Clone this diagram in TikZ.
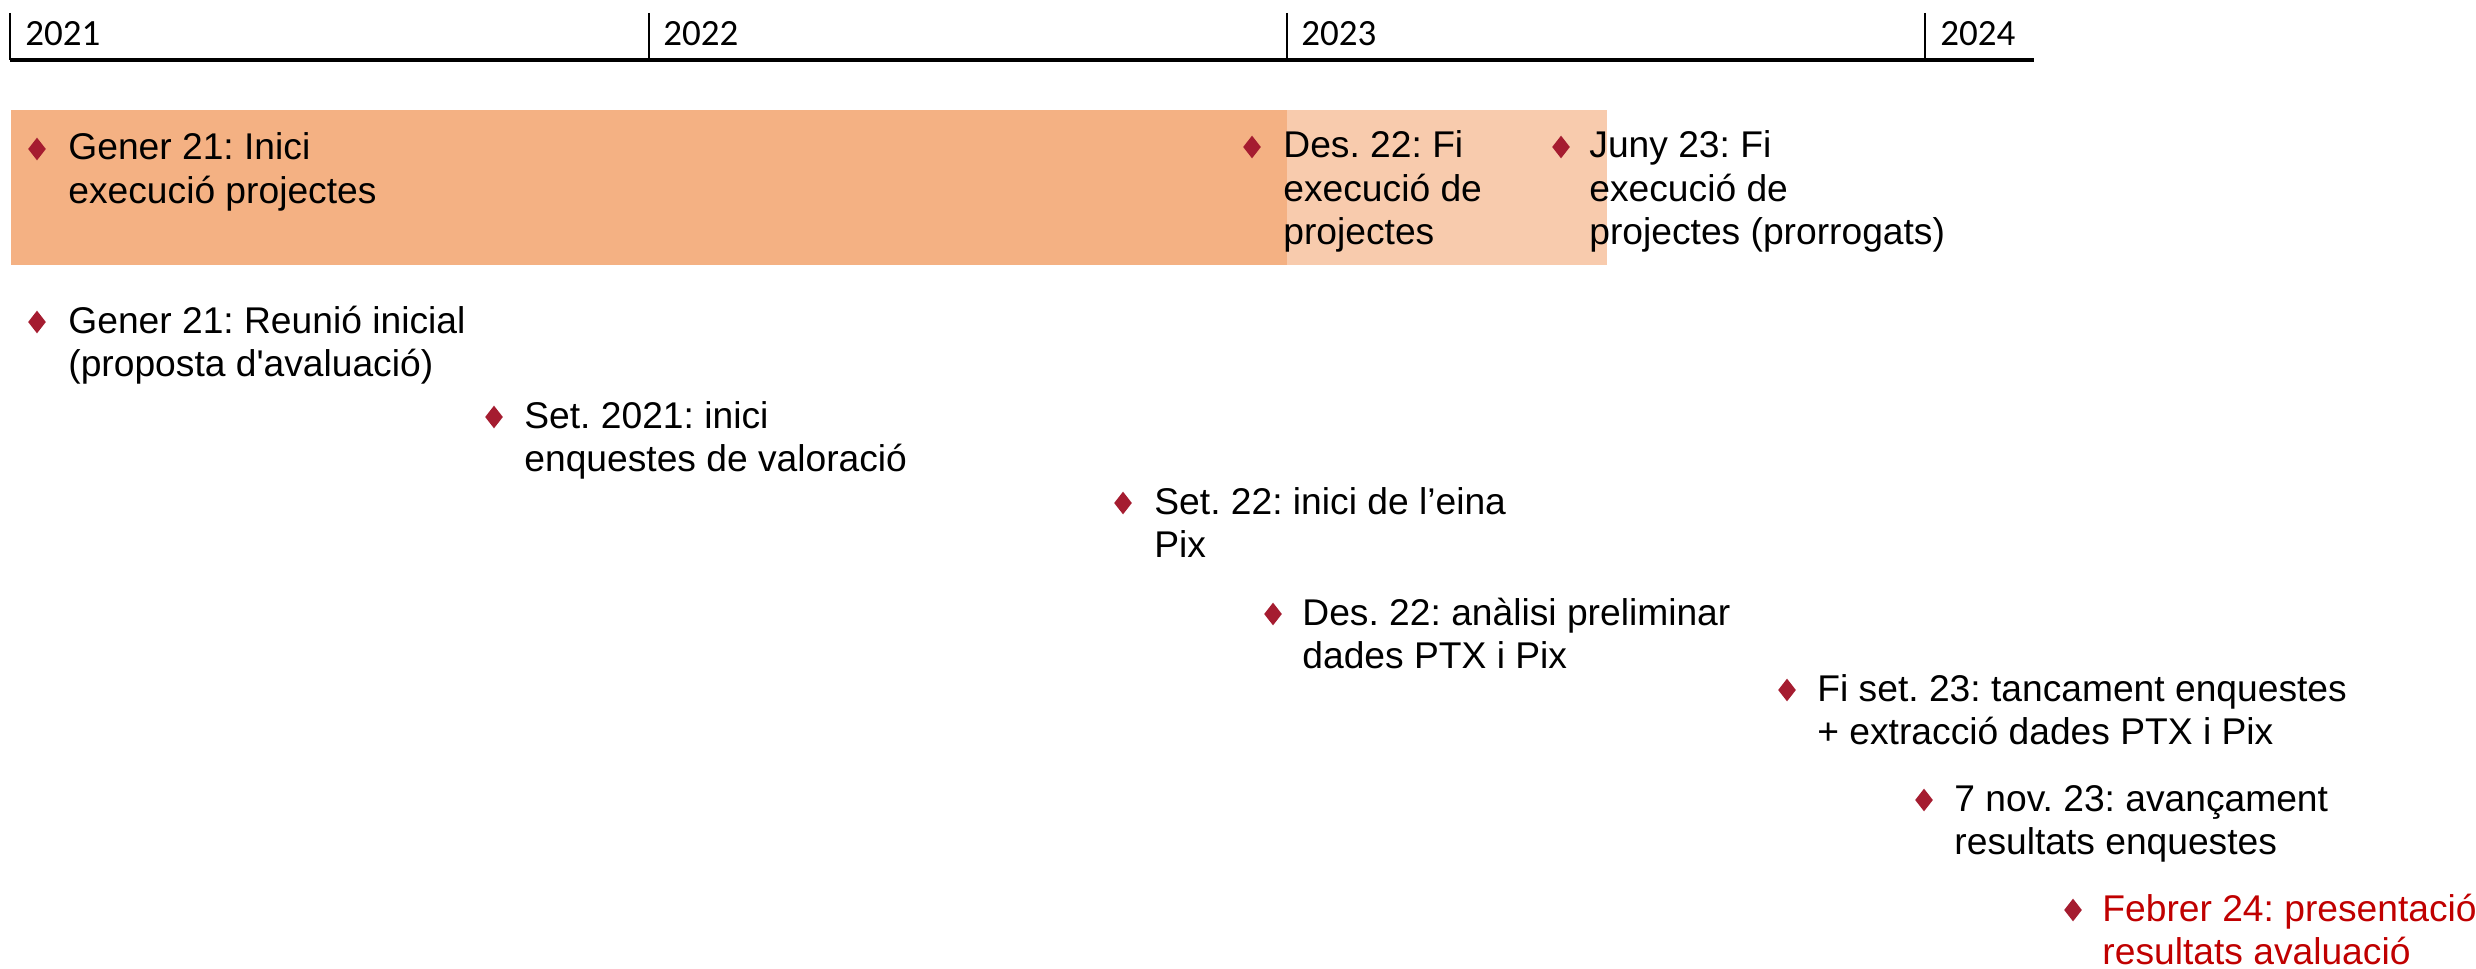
\documentclass[tikz,border=0pt]{standalone}
\usepackage{fontspec}
\setmainfont{Liberation Sans}
\newfontfamily\itemfont{Liberation Sans}
\newfontfamily\yearfont{Carlito}
\usetikzlibrary{shapes.geometric}
\definecolor{boxdark}{HTML}{F4B183}
\definecolor{boxlight}{HTML}{F8CBAD}
\definecolor{bulred}{HTML}{A51C30}
\definecolor{evred}{HTML}{C00000}
\newcommand{\mlines}[1]{\begin{tabular}[t]{@{}l@{}}#1\end{tabular}}
\frenchspacing
\begin{document}
\begin{tikzpicture}[x=0.5pt,y=-0.5pt,
  item/.style={anchor=base west, inner sep=0pt,
    font=\itemfont\frenchspacing\fontsize{18.6pt}{21.75pt}\selectfont},
  bul/.style={diamond, fill=bulred, draw=none, inner sep=0pt,
    minimum width=9pt, minimum height=11.5pt},
  yr/.style={anchor=base west, inner sep=0pt,
    font=\yearfont\fontsize{18.5pt}{22pt}\selectfont},
  tickline/.style={line width=0.8pt, black},
  axisline/.style={line width=1.6pt, black}]
\useasboundingbox (0,0) rectangle (2476,968);
% bars
\fill[boxdark] (11,110) rectangle (1287,265);
\fill[boxlight] (1287,110) rectangle (1607,265);
% axis
\coordinate (t0) at (10,13);   \coordinate (b0) at (10,60);
\coordinate (t1) at (649,13);  \coordinate (b1) at (649,60);
\coordinate (t2) at (1287,13); \coordinate (b2) at (1287,60);
\coordinate (t3) at (1925,13); \coordinate (b3) at (1925,60);
\coordinate (aend) at (2034,60);
\draw[tickline] (t0) -- (b0);
\draw[tickline] (t1) -- (b1);
\draw[tickline] (t2) -- (b2);
\draw[tickline] (t3) -- (b3);
\draw[axisline] (b0) -- (aend);
\node[yr] (y21) at (25,46) {2021};
\node[yr] (y22) at (663,46) {2022};
\node[yr] (y23) at (1301,46) {2023};
\node[yr] (y24) at (1940,46) {2024};
% items in bar
\node[bul] (d1) at (37,149) {};
\node[item] (i1) at (68,160) {\mlines{Gener 21: Inici\\execució projectes}};
\node[bul] (d2) at (1252,147) {};
\node[item] (i2) at (1283,158) {\mlines{Des. 22: Fi\\execució de\\projectes}};
\node[bul] (d3) at (1561,147) {};
\node[item] (i3) at (1589,158) {\mlines{Juny 23: Fi\\execució de\\projectes (prorrogats)}};
% items below
\node[bul] (d4) at (37,322) {};
\node[item] (i4) at (68,333) {\mlines{Gener 21: Reunió inicial\\(proposta d'avaluació)}};
\node[bul] (d5) at (494,417) {};
\node[item] (i5) at (524,428) {\mlines{Set. 2021: inici\\enquestes de valoració}};
\node[bul] (d6) at (1123,503) {};
\node[item] (i6) at (1154,514) {\mlines{Set. 22: inici de l’eina\\Pix}};
\node[bul] (d7) at (1273,614) {};
\node[item] (i7) at (1302,625) {\mlines{Des. 22: anàlisi preliminar\\dades PTX i Pix}};
\node[bul] (d8) at (1787,690) {};
\node[item] (i8) at (1817,701) {\mlines{Fi set. 23: tancament enquestes\\+ extracció dades PTX i Pix}};
\node[bul] (d9) at (1924,800) {};
\node[item] (i9) at (1954,811) {\mlines{7 nov. 23: avançament\\resultats enquestes}};
\node[bul] (d10) at (2073,910) {};
\node[item, text=evred] (i10) at (2102,921) {\mlines{Febrer 24: presentació\\resultats avaluació}};
\end{tikzpicture}
\end{document}
